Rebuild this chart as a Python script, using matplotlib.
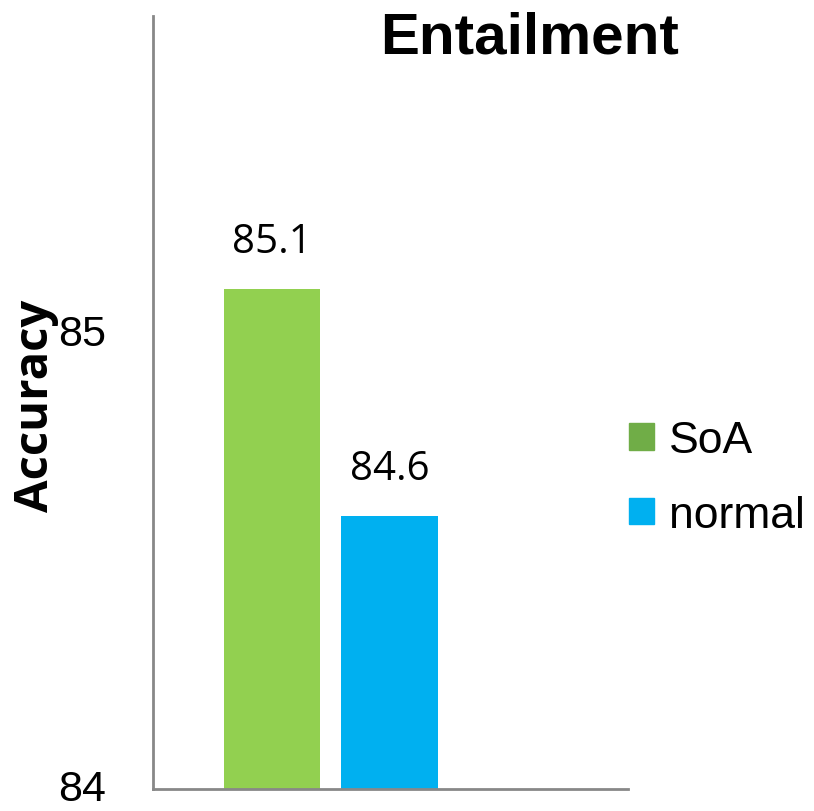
import numpy as np
import matplotlib.pyplot as plt
from matplotlib import font_manager
from matplotlib.patches import Patch
from matplotlib.transforms import ScaledTranslation

series = ['SoA', 'normal']
values = [85.1, 84.6]
bar_colors = ['#92D050', '#00B0F0']
legend_colors = ['#70AD47', '#00B0F0']
yticks = [84, 85]

installed = {f.name for f in font_manager.fontManager.ttflist}
narrow = 'Liberation Sans Narrow' if 'Liberation Sans Narrow' in installed else 'Liberation Sans'

fig = plt.figure(figsize=(8.14, 8.12), dpi=100)
ax = fig.add_axes([0.188, 0.027, 0.583, 0.952])

x = np.arange(len(series))
ax.bar(x, values, width=0.82, color=bar_colors)
ax.set_xlim(-1.01, 3.02)
ax.set_ylim(84, 85.7)

# value labels above bars
for xi, v in zip(x, values):
    ax.text(xi, v + 0.06, f'{v}', ha='center', va='bottom',
            fontsize=29, family='Open Sans')

for s in ['top', 'right']:
    ax.spines[s].set_visible(False)
for s in ['left', 'bottom']:
    ax.spines[s].set_color('#888888')
    ax.spines[s].set_linewidth(2)

# y tick labels drawn by hand so they can sit a little above the tick
ax.set_xticks([])
ax.set_yticks(yticks)
ax.tick_params(axis='y', length=0, labelleft=False)
shift = ScaledTranslation(-0.47, 0.005, fig.dpi_scale_trans)
for t in yticks:
    ax.text(0, t, str(t), ha='right', va='center', fontsize=31,
            family=narrow, fontstretch='condensed', clip_on=False,
            transform=ax.get_yaxis_transform() + shift)

fig.text(0.044, 0.5, 'Accuracy', rotation=90, ha='center', va='center',
         fontsize=34, fontweight='bold', family='Open Sans')
fig.text(0.651, 0.953, 'Entailment', ha='center', va='center',
         fontsize=42, fontweight='bold', family='Liberation Sans')

handles = [Patch(color=c, label=l) for c, l in zip(legend_colors, series)]
fig.legend(handles=handles, loc='center left', bbox_to_anchor=(0.773, 0.41),
           frameon=False, prop={'family': 'Liberation Sans', 'size': 32},
           borderpad=0, borderaxespad=0,
           handlelength=0.55, handleheight=0.55, handletextpad=0.35,
           labelspacing=0.75)

fig.savefig('out.png', dpi=100)
